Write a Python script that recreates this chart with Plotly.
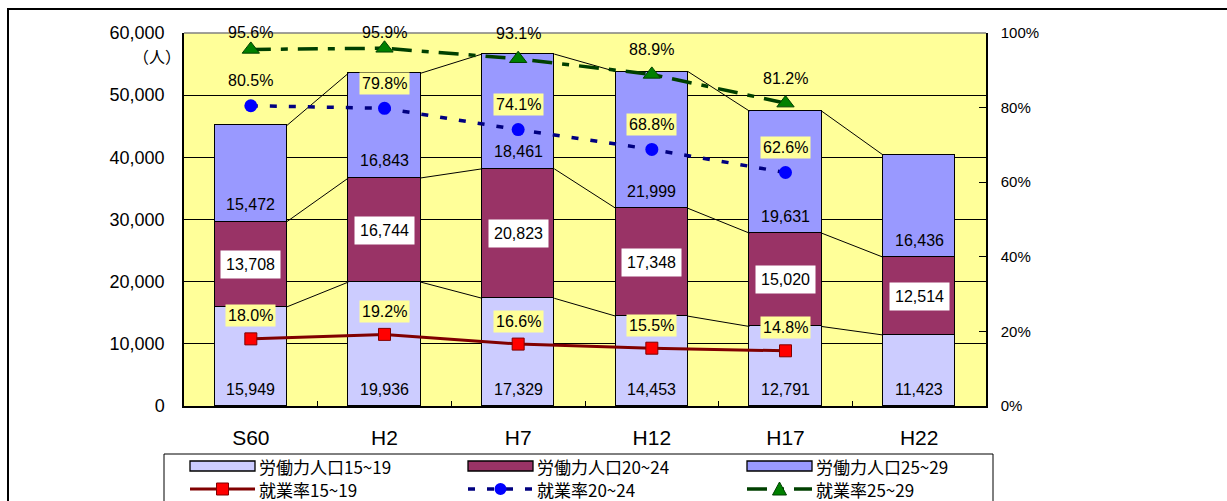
import plotly.graph_objects as go

# Survey years (Showa 60 through Heisei 22)
years = ["S60", "H2", "H7", "H12", "H17", "H22"]

# Labour force population by age group (persons)
pop_15_19 = [15949, 19936, 17329, 14453, 12791, 11423]
pop_20_24 = [13708, 16744, 20823, 17348, 15020, 12514]
pop_25_29 = [15472, 16843, 18461, 21999, 19631, 16436]

# Employment rate by age group (%), no figures for H22
rate_15_19 = [18.0, 19.2, 16.6, 15.5, 14.8]
rate_20_24 = [80.5, 79.8, 74.1, 68.8, 62.6]
rate_25_29 = [95.6, 95.9, 93.1, 88.9, 81.2]

y_ticks = [0, 10000, 20000, 30000, 40000, 50000, 60000]
pct_ticks = [0, 20, 40, 60, 80, 100]

# ---- plot geometry (pixels) ----
W, H = 1227, 501
L, R, T, B = 184, 986, 33, 406
BAR_W = 0.54

NUM_FONT = "Liberation Sans, Arial, sans-serif"
JP_FONT = "Noto Sans CJK JP, sans-serif"

C15, C20, C25 = "#CCCCFF", "#993366", "#9999FF"
YELLOW = "#FFFF99"


def fx(px):
    return (px - L) / (R - L)


def fy(py):
    return (B - py) / (B - T)


xs = list(range(len(years)))
xr = list(range(len(rate_15_19)))

fig = go.Figure()

# stacked labour force bars
for vals, col, name in [(pop_15_19, C15, "労働力人口15~19"),
                        (pop_20_24, C20, "労働力人口20~24"),
                        (pop_25_29, C25, "労働力人口25~29")]:
    fig.add_trace(go.Bar(x=xs, y=vals, width=BAR_W, name=name,
                         marker=dict(color=col, line=dict(color="black", width=1.3)),
                         showlegend=False, hoverinfo="skip"))

# series lines joining the tops of each stacked segment
cum1 = pop_15_19
cum2 = [a + b for a, b in zip(pop_15_19, pop_20_24)]
cum3 = [a + b for a, b in zip(cum2, pop_25_29)]
for cum in (cum1, cum2, cum3):
    lx, ly = [], []
    for i in range(len(years) - 1):
        lx += [i + BAR_W / 2, i + 1 - BAR_W / 2, None]
        ly += [cum[i], cum[i + 1], None]
    fig.add_trace(go.Scatter(x=lx, y=ly, mode="lines",
                             line=dict(color="black", width=1),
                             showlegend=False, hoverinfo="skip"))

# employment rate lines on the right-hand axis
fig.add_trace(go.Scatter(x=xr, y=rate_15_19, yaxis="y2", mode="lines+markers",
                         name="就業率15~19",
                         line=dict(color="#800000", width=3),
                         marker=dict(symbol="square", size=12, color="#FF0000",
                                     line=dict(color="#800000", width=1)),
                         showlegend=False, hoverinfo="skip"))
fig.add_trace(go.Scatter(x=xr, y=rate_20_24, yaxis="y2", mode="lines+markers",
                         name="就業率20~24",
                         line=dict(color="#000080", width=3.5, dash="7px,12px"),
                         marker=dict(symbol="circle", size=13, color="#0000FF",
                                     line=dict(color="#0000FF", width=0)),
                         showlegend=False, hoverinfo="skip"))
fig.add_trace(go.Scatter(x=xr, y=rate_25_29, yaxis="y2", mode="lines+markers",
                         name="就業率25~29",
                         line=dict(color="#004000", width=3.5, dash="20px,10px,7px,10px"),
                         marker=dict(symbol="triangle-up", size=15, color="#008000",
                                     line=dict(color="#004000", width=1)),
                         showlegend=False, hoverinfo="skip"))

ann = []

# value labels inside bars
for i in xs:
    ann.append(dict(x=i, y=0, yref="y", text=f"{pop_15_19[i]:,}", showarrow=False,
                    yshift=17, font=dict(family=NUM_FONT, size=16, color="black")))
    ann.append(dict(x=i, y=cum1[i] + pop_20_24[i] / 2, yref="y", text=f"{pop_20_24[i]:,}",
                    showarrow=False, bgcolor="white", borderpad=5,
                    font=dict(family=NUM_FONT, size=16, color="black")))
    ann.append(dict(x=i, y=cum2[i], yref="y", text=f"{pop_25_29[i]:,}", showarrow=False,
                    yshift=17, font=dict(family=NUM_FONT, size=16, color="black")))

# rate labels above markers (kept inside the top of the plot)
px_per_pct = (B - T) / 100.0
for vals, off, bg in [(rate_15_19, 23, YELLOW), (rate_20_24, 25, YELLOW),
                      (rate_25_29, 25, "rgba(0,0,0,0)")]:
    for i, v in zip(xr, vals):
        shift = min(off, (100 - v) * px_per_pct)
        ann.append(dict(x=i, y=v, yref="y2", text=f"{v:.1f}%", showarrow=False,
                        yshift=shift, bgcolor=bg, borderpad=2,
                        font=dict(family=NUM_FONT, size=16, color="black")))

# unit label of the left axis
ann.append(dict(x=fx(183), y=fy(56), xref="paper", yref="paper", text="（人）",
                showarrow=False, xanchor="right", yanchor="middle",
                font=dict(family=JP_FONT, size=16, color="black")))

shapes = []

# top border of the plot area
shapes.append(dict(type="line", xref="paper", yref="paper", x0=0, x1=1, y0=1, y1=1,
                   line=dict(color="#808080", width=1.5)))

# outer frame
shapes.append(dict(type="rect", xref="paper", yref="paper",
                   x0=fx(8), x1=fx(1240), y0=fy(515), y1=fy(9),
                   line=dict(color="black", width=2), layer="below"))

# ---- legend ----
shapes.append(dict(type="rect", xref="paper", yref="paper",
                   x0=fx(164), x1=fx(993), y0=fy(515), y1=fy(454),
                   line=dict(color="black", width=1), fillcolor="white"))

LEG_FONT = dict(family=JP_FONT, size=17, color="black")
cols = [190, 468, 747]
row1, row2 = 466, 489
sym_w = 65
bar_items = [(C15, "労働力人口15~19"), (C20, "労働力人口20~24"), (C25, "労働力人口25~29")]
for cx, (col, label) in zip(cols, bar_items):
    shapes.append(dict(type="rect", xref="paper", yref="paper",
                       x0=fx(cx), x1=fx(cx + sym_w), y0=fy(row1 + 5), y1=fy(row1 - 5),
                       fillcolor=col, line=dict(color="black", width=1.3)))
    ann.append(dict(x=fx(cx + sym_w + 3), y=fy(row1), xref="paper", yref="paper",
                    text=label, showarrow=False, xanchor="left", yanchor="middle",
                    height=20, borderpad=0, font=LEG_FONT))

line_items = [("#800000", "solid", 3, "就業率15~19"),
              ("#000080", "7px,12px", 3.5, "就業率20~24"),
              ("#004000", "20px,10px,7px,10px", 3.5, "就業率25~29")]
for k, (cx, (lc, dash, lw, label)) in enumerate(zip(cols, line_items)):
    shapes.append(dict(type="line", xref="paper", yref="paper",
                       x0=fx(cx), x1=fx(cx + sym_w), y0=fy(row2), y1=fy(row2),
                       line=dict(color=lc, width=lw, dash=dash)))
    mx = cx + sym_w / 2
    if k == 0:
        shapes.append(dict(type="rect", xref="paper", yref="paper",
                           x0=fx(mx - 6), x1=fx(mx + 6), y0=fy(row2 + 6), y1=fy(row2 - 6),
                           fillcolor="#FF0000", line=dict(color="#800000", width=1)))
    elif k == 1:
        shapes.append(dict(type="circle", xref="paper", yref="paper",
                           x0=fx(mx - 6), x1=fx(mx + 6), y0=fy(row2 + 6), y1=fy(row2 - 6),
                           fillcolor="#0000FF", line=dict(color="#0000FF", width=0)))
    else:
        path = (f"M {fx(mx - 7)} {fy(row2 + 6)} L {fx(mx + 7)} {fy(row2 + 6)} "
                f"L {fx(mx)} {fy(row2 - 7)} Z")
        shapes.append(dict(type="path", xref="paper", yref="paper", path=path,
                           fillcolor="#008000", line=dict(color="#004000", width=1)))
    ann.append(dict(x=fx(cx + sym_w + 3), y=fy(row2), xref="paper", yref="paper",
                    text=label, showarrow=False, xanchor="left", yanchor="middle",
                    height=20, borderpad=0, font=LEG_FONT))

fig.update_layout(
    width=W, height=H,
    margin=dict(l=L, r=W - R, t=T, b=H - B),
    paper_bgcolor="white", plot_bgcolor=YELLOW,
    barmode="stack", bargap=0,
    showlegend=False,
    annotations=ann, shapes=shapes,
    xaxis=dict(range=[-0.5, len(years) - 0.5], tickmode="array", tickvals=xs,
               ticktext=years, ticks="", showgrid=False, zeroline=False,
               showline=True, linecolor="black", linewidth=1.5,
               ticklabelstandoff=12,
               tickfont=dict(family=NUM_FONT, size=21, color="black"),
               minor=dict(tickmode="array", tickvals=[i + 0.5 for i in xs[:-1]],
                          ticks="inside", ticklen=5, tickcolor="black", showgrid=False)),
    yaxis=dict(range=[0, 60000], tickmode="array", tickvals=y_ticks,
               tickformat=",", showgrid=True, gridcolor="black", gridwidth=1,
               zeroline=False, showline=True, linecolor="black", linewidth=1.5,
               ticks="", ticklabelstandoff=14,
               tickfont=dict(family=NUM_FONT, size=18, color="black")),
    yaxis2=dict(range=[0, 100], overlaying="y", side="right", tickmode="array",
                tickvals=pct_ticks, ticktext=[f"{v}%" for v in pct_ticks],
                showgrid=False, zeroline=False,
                showline=True, linecolor="black", linewidth=1.5,
                ticks="inside", ticklen=7, tickcolor="black", ticklabelstandoff=10,
                tickfont=dict(family=NUM_FONT, size=15, color="black")),
)

fig.write_html("out.html")
